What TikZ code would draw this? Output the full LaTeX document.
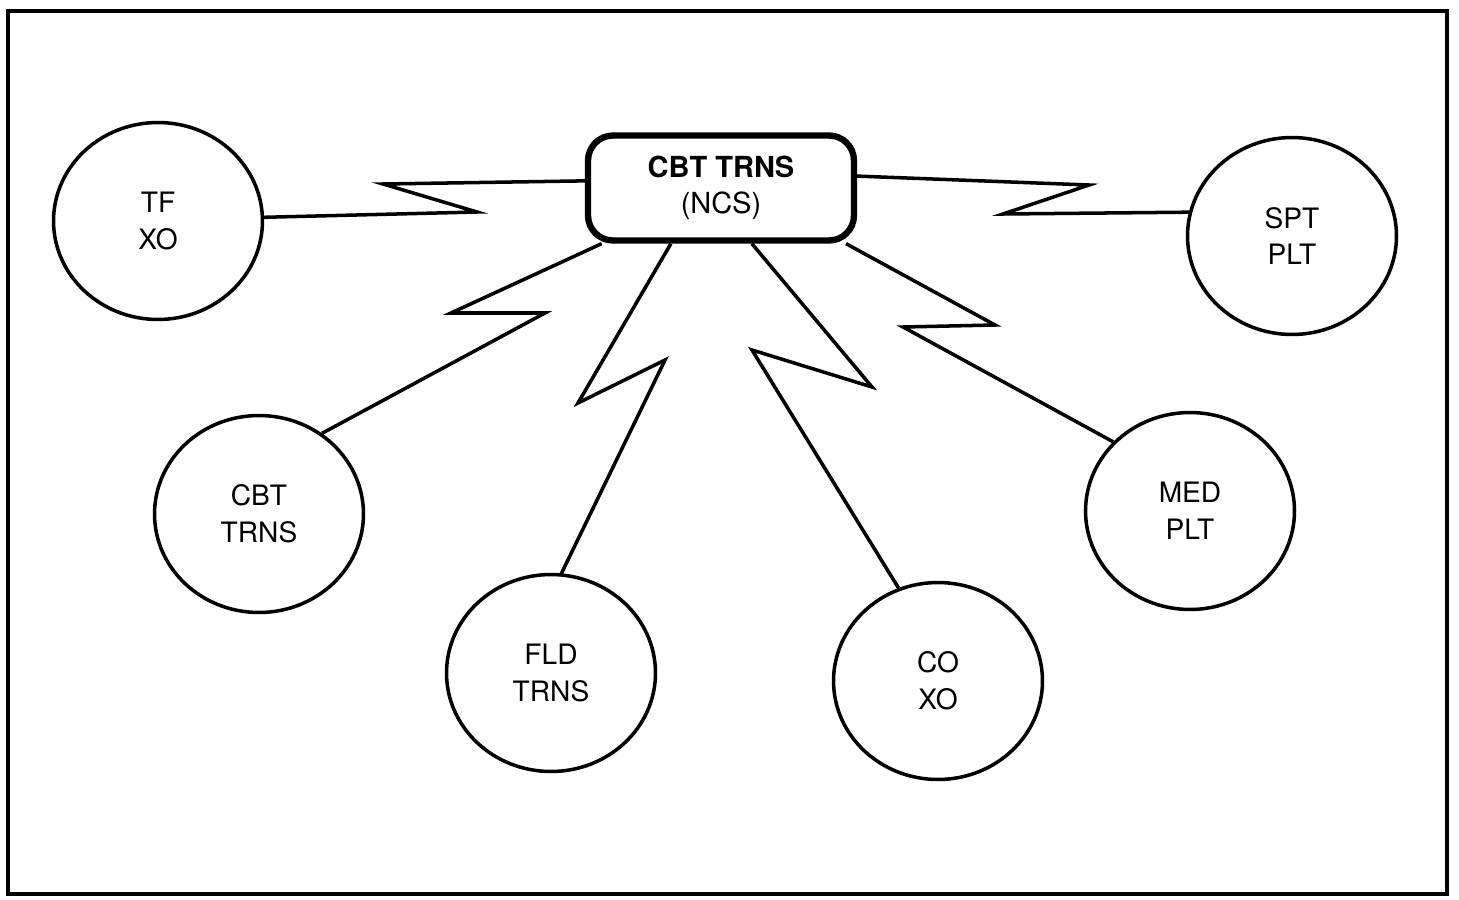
\documentclass[tikz,border=0pt]{standalone}
\usepackage{fontspec}
\setmainfont{TeX Gyre Heros}
\usetikzlibrary{shapes.geometric}
\begin{document}
\begin{tikzpicture}[x=0.02cm, y=-0.02cm,
    station/.style={draw, ellipse, line width=2pt, minimum width=4.18cm,
        minimum height=3.94cm, inner sep=0pt, align=center,
        font=\fontsize{16}{21}\selectfont},
    ncsbox/.style={draw, rectangle, rounded corners=0.5cm, line width=3.6pt,
        minimum width=5.32cm, minimum height=2.1cm, align=center,
        font=\fontsize{16.5}{20.5}\selectfont},
    bolt/.style={line width=2pt, line join=miter}]
    \useasboundingbox (0,0) rectangle (1459,899);

    % Cadre
    \draw[line width=2.4pt] (8,11) rectangle (1447,894);

    % Poste central
    \node[ncsbox] (ncs) at (721,188) {\textbf{CBT TRNS}\\(NCS)};

    % Stations
    \node[station] (tfxo) at (158,221) {TF\\XO};
    \node[station] (sptplt) at (1292,236) {SPT\\PLT};
    \node[station] (cbttrns) at (259,514) {CBT\\TRNS};
    \node[station] (medplt) at (1190,511) {MED\\PLT};
    \node[station] (fldtrns) at (551,673) {FLD\\TRNS};
    \node[station] (coxo) at (938,681) {CO\\XO};

    % Liaisons radio (eclairs)
    \draw[bolt] (ncs.177) -- (383,184) -- (477,212) -- (tfxo.2);
    \draw[bolt] (ncs.205) -- (451,313) -- (545,313) -- (cbttrns.52);
    \draw[bolt] (ncs.228) -- (578,403) -- (665,360) -- (fldtrns.84);
    \draw[bolt] (ncs.299) -- (872,387) -- (752,350) -- (coxo.113);
    \draw[bolt] (ncs.336) -- (995,325) -- (903,327) -- (medplt.138);
    \draw[bolt] (ncs.5) -- (1089,185) -- (1003,214) -- (sptplt.167);
\end{tikzpicture}
\end{document}
